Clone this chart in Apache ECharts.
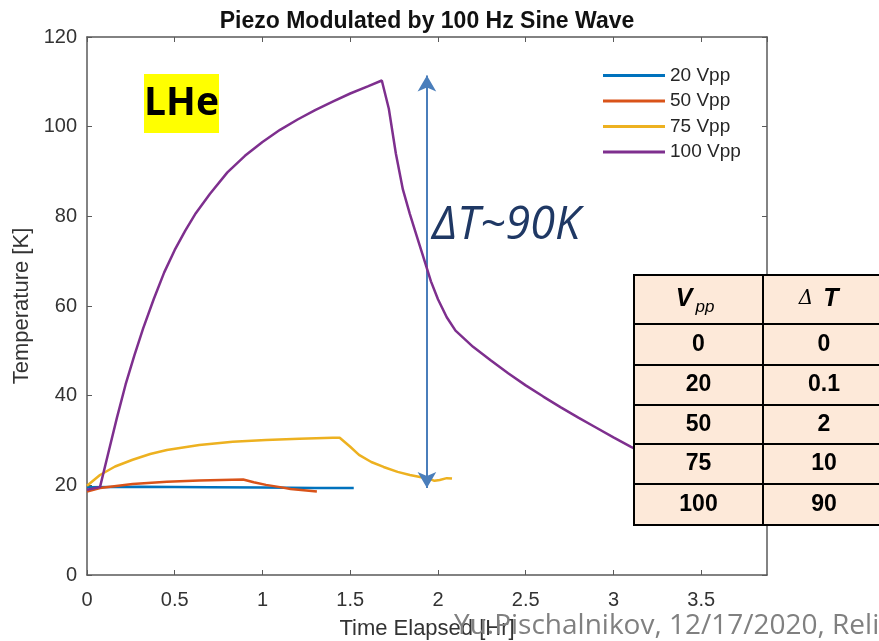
<!DOCTYPE html>
<html>
<head>
<meta charset="utf-8">
<title>Piezo Modulated by 100 Hz Sine Wave</title>
<script src="https://cdn.jsdelivr.net/npm/echarts@6/dist/echarts.min.js"></script>
<style>
  html, body { margin: 0; padding: 0; background: #fff; }
  #chart { width: 879px; height: 641px; }
</style>
</head>
<body>
<div id="chart"></div>
<script>
// 数据
const seriesNames = ['20 Vpp', '50 Vpp', '75 Vpp', '100 Vpp']

const t20 = [0, 0.3, 0.7, 1.0, 1.3, 1.52]
const temp20 = [19.6, 19.7, 19.6, 19.5, 19.4, 19.4]

const t50 = [0, 0.074, 0.26, 0.455, 0.64, 0.89, 0.95, 1.02, 1.10, 1.16, 1.31]
const temp50 = [18.6, 19.4, 20.3, 20.8, 21.1, 21.3, 20.7, 20.1, 19.6, 19.2, 18.6]

const t75 = [0, 0.074, 0.16, 0.26, 0.36, 0.455, 0.64, 0.83, 1.02, 1.21, 1.40, 1.44, 1.50, 1.55, 1.62, 1.69, 1.77, 1.84, 1.955, 1.98, 2.01, 2.05, 2.08]
const temp75 = [19.9, 22.3, 24.2, 25.7, 27.0, 27.9, 29.0, 29.7, 30.1, 30.4, 30.6, 30.6, 28.6, 26.8, 25.2, 24.1, 23.0, 22.3, 21.4, 21.0, 21.2, 21.6, 21.5]

const t100 = [0, 0.074, 0.12, 0.17, 0.22, 0.27, 0.32, 0.38, 0.44, 0.5, 0.56, 0.62, 0.7, 0.8, 0.9, 1.0, 1.1, 1.2, 1.3, 1.4, 1.5, 1.6, 1.68,
  1.72, 1.76, 1.80, 1.84, 1.88, 1.92, 1.96, 2.0, 2.05, 2.1, 2.2, 2.3, 2.4, 2.5, 2.6, 2.7, 2.8, 2.9, 3.0, 3.1, 3.2, 3.3]
const temp100 = [19.0, 19.6, 27, 35, 42.5, 49, 55, 61.5, 67.5, 72.5, 76.8, 80.7, 85, 89.8, 93.5, 96.6, 99.3, 101.6, 103.7, 105.6, 107.4, 109.0, 110.3,
  104, 94, 86, 80.5, 75.5, 70.5, 65.5, 61.5, 57.5, 54.5, 50.9, 47.9, 45.0, 42.3, 39.8, 37.4, 35.1, 32.9, 30.7, 28.6, 26.7, 25.0]

// ΔT 箭头 (数据坐标)
const arrowT = 1.937
const arrowLow = 19.4
const arrowHigh = 111.4

// 表格
const tableVpp = ['0', '20', '50', '75', '100']
const tableDT = ['0', '0.1', '2', '10', '90']

const xTicks = [0, 0.5, 1, 1.5, 2, 2.5, 3, 3.5]
const yTicks = [0, 20, 40, 60, 80, 100, 120]

const colors = ['#0072BD', '#D95319', '#EDB120', '#7E2F8E']
const axisColor = '#5a5a5a'
const labelColor = '#333'
const font = 'Liberation Sans, Arial, sans-serif'

const zip = (xs, ys) => xs.map((x, i) => [x, ys[i]])

// 表格图形
const buildTable = () => {
  const colX = [634, 763, 886]
  const rowY = [275, 324, 365, 405, 444, 484, 525]
  const els = []
  for (let r = 0; r < rowY.length - 1; r++) {
    for (let c = 0; c < 2; c++) {
      els.push({
        type: 'rect',
        shape: { x: colX[c], y: rowY[r], width: colX[c + 1] - colX[c], height: rowY[r + 1] - rowY[r] },
        style: { fill: '#fde9d9', stroke: '#000', lineWidth: 2 },
        z: 100
      })
    }
  }
  // 表头
  els.push({ type: 'text', x: 684, y: 299, z: 101,
    style: { text: 'V', font: 'italic bold 25px ' + font, fill: '#000', align: 'center', verticalAlign: 'middle' } })
  els.push({ type: 'text', x: 705, y: 307, z: 101,
    style: { text: 'pp', font: 'italic 17px ' + font, fill: '#000', align: 'center', verticalAlign: 'middle' } })
  els.push({ type: 'text', x: 806, y: 299, z: 101,
    style: { text: 'Δ', font: 'italic 20px DejaVu Serif, serif', fill: '#000', align: 'center', verticalAlign: 'middle' } })
  els.push({ type: 'text', x: 831, y: 299, z: 101,
    style: { text: 'T', font: 'italic bold 25px ' + font, fill: '#000', align: 'center', verticalAlign: 'middle' } })
  tableVpp.forEach((v, i) => {
    const cy = (rowY[i + 1] + rowY[i + 2]) / 2
    els.push({ type: 'text', x: (colX[0] + colX[1]) / 2, y: cy, z: 101,
      style: { text: v, font: 'bold 23px ' + font, fill: '#000', align: 'center', verticalAlign: 'middle' } })
    els.push({ type: 'text', x: 824, y: cy, z: 101,
      style: { text: tableDT[i], font: 'bold 23px ' + font, fill: '#000', align: 'center', verticalAlign: 'middle' } })
  })
  return els
}

const chart = echarts.init(document.getElementById('chart'))

const option = {
  backgroundColor: '#fff',
  animation: false,
  title: {
    text: 'Piezo Modulated by 100 Hz Sine Wave',
    left: 422,
    textAlign: 'center',
    top: 5,
    textStyle: { fontFamily: font, fontWeight: 'bold', fontSize: 23, color: '#111' }
  },
  legend: {
    data: seriesNames,
    orient: 'vertical',
    left: 598,
    top: 61,
    icon: 'rect',
    itemWidth: 62,
    itemHeight: 3,
    itemGap: 6.5,
    textStyle: { fontFamily: font, fontSize: 19, color: '#262626', lineHeight: 19, padding: [0, 0, 0, 0] }
  },
  grid: { left: 87, right: 112, top: 37, bottom: 66, outerBoundsMode: 'none' },
  xAxis: [{
    type: 'value',
    min: 0,
    max: 3.875,
    interval: 0.5,
    name: 'Time Elapsed [Hr]',
    nameLocation: 'middle',
    nameGap: 43,
    nameTextStyle: { fontFamily: font, fontSize: 22, color: labelColor },
    axisLine: { onZero: false, lineStyle: { color: axisColor, width: 1.5 } },
    axisTick: { inside: true, length: 5, lineStyle: { color: axisColor } },
    axisLabel: { showMaxLabel: false, margin: 15, fontFamily: font, fontSize: 20, color: labelColor,
      formatter: v => (xTicks.includes(v) ? String(v) : '') },
    splitLine: { show: false }
  }, {
    type: 'value',
    position: 'top',
    min: 0,
    max: 3.875,
    interval: 0.5,
    axisLine: { onZero: false, lineStyle: { color: axisColor, width: 1.5 } },
    axisTick: { inside: true, length: 5, lineStyle: { color: axisColor } },
    axisLabel: { show: false },
    splitLine: { show: false }
  }],
  yAxis: [{
    type: 'value',
    min: 0,
    max: 120,
    interval: 20,
    name: 'Temperature [K]',
    nameLocation: 'middle',
    nameGap: 51,
    nameTextStyle: { fontFamily: font, fontSize: 22, color: labelColor },
    axisLine: { show: true, onZero: false, lineStyle: { color: axisColor, width: 1.5 } },
    axisTick: { show: true, inside: true, length: 5, lineStyle: { color: axisColor } },
    axisLabel: { margin: 10, fontFamily: font, fontSize: 20, color: labelColor,
      formatter: v => (yTicks.includes(v) ? String(v) : '') },
    splitLine: { show: false }
  }, {
    type: 'value',
    position: 'right',
    min: 0,
    max: 120,
    interval: 20,
    axisLine: { show: true, onZero: false, lineStyle: { color: axisColor, width: 1.5 } },
    axisTick: { show: true, inside: true, length: 5, lineStyle: { color: axisColor } },
    axisLabel: { show: false },
    splitLine: { show: false }
  }],
  series: [
    { name: seriesNames[0], type: 'line', data: zip(t20, temp20), color: colors[0], showSymbol: false,
      lineStyle: { width: 2.5 }, z: 2 },
    { name: seriesNames[1], type: 'line', data: zip(t50, temp50), color: colors[1], showSymbol: false,
      lineStyle: { width: 2.5 }, z: 3 },
    { name: seriesNames[2], type: 'line', data: zip(t75, temp75), color: colors[2], showSymbol: false,
      lineStyle: { width: 2.5 }, z: 4 },
    { name: seriesNames[3], type: 'line', data: zip(t100, temp100), color: colors[3], showSymbol: false,
      lineStyle: { width: 2.5 }, z: 5,
      markLine: {
        silent: true,
        symbol: ['arrow', 'arrow'],
        symbolSize: [14, 16],
        label: { show: false },
        lineStyle: { color: '#4a7ebb', width: 2, type: 'solid' },
        data: [[{ coord: [arrowT, arrowLow] }, { coord: [arrowT, arrowHigh] }]]
      } }
  ],
  graphic: [
    { type: 'rect', shape: { x: 144, y: 74, width: 75, height: 59 }, style: { fill: '#ffff00' }, z: 50 },
    { type: 'text', x: 181.5, y: 104, z: 51,
      style: { text: 'LHe', font: 'bold 39px Open Sans, sans-serif', fill: '#000', align: 'center', verticalAlign: 'middle' } },
    { type: 'text', x: 432, y: 226, z: 51,
      style: { text: 'ΔT~90K', font: 'italic 45px Open Sans, sans-serif', fill: '#1f3864', align: 'left', verticalAlign: 'middle' } },
    ...buildTable(),
    { type: 'text', x: 454, y: 626, z: 120,
      style: { text: 'Yu.Pischalnikov, 12/17/2020, Reli', font: '28px Open Sans, sans-serif', fill: '#808080', align: 'left', verticalAlign: 'middle' } }
  ]
}

chart.setOption(option)
</script>
</body>
</html>
